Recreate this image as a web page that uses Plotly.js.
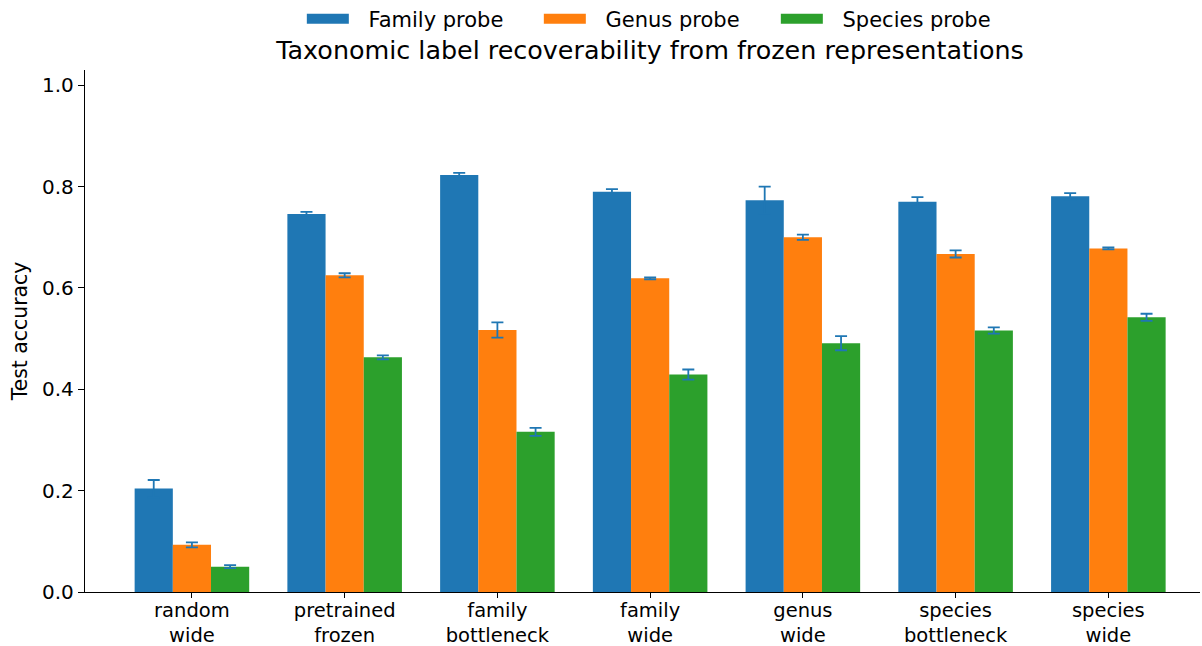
<!DOCTYPE html>
<html>
<head>
<meta charset="utf-8">
<script src="https://cdn.plot.ly/plotly-3.0.1.min.js"></script>
<style>html,body{margin:0;padding:0;background:#fff;}#chart{width:1202px;height:646px;}</style>
</head>
<body>
<div id="chart"></div>
<script>
const categories = ["random<br>wide", "pretrained<br>frozen", "family<br>bottleneck", "family<br>wide", "genus<br>wide", "species<br>bottleneck", "species<br>wide"];
const familyAcc = [0.204, 0.746, 0.823, 0.790, 0.773, 0.770, 0.781];
const familyErr = [0.017, 0.004, 0.004, 0.005, 0.027, 0.009, 0.006];
const genusAcc = [0.093, 0.625, 0.517, 0.619, 0.700, 0.667, 0.678];
const genusErr = [0.005, 0.004, 0.015, 0.002, 0.005, 0.007, 0.002];
const speciesAcc = [0.050, 0.463, 0.316, 0.429, 0.491, 0.516, 0.542];
const speciesErr = [0.003, 0.004, 0.008, 0.010, 0.014, 0.006, 0.007];
const seriesNames = ["Family probe", "Genus probe", "Species probe"];
const colors = ["#1f77b4", "#ff7f0e", "#2ca02c"];
const yTicks = [0, 0.2, 0.4, 0.6, 0.8, 1.0];

const errStyle = {type: "data", visible: true, color: "#1f77b4", thickness: 1.8, width: 6};
const vals = [familyAcc, genusAcc, speciesAcc];
const errs = [familyErr, genusErr, speciesErr];
const traces = vals.map((v, i) => ({
  type: "bar",
  name: seriesNames[i],
  legendgroup: seriesNames[i],
  showlegend: false,
  x: categories,
  y: v,
  marker: {color: colors[i], line: {width: 0}},
  error_y: Object.assign({array: errs[i]}, errStyle),
  hoverinfo: "x+y"
}));
// legend-only entries with wide swatches
seriesNames.forEach((n, i) => traces.push({
  type: "scatter", mode: "lines", name: "\u2002\u2009" + n, legendgroup: n,
  x: [null], y: [null],
  line: {color: colors[i], width: 15},
  showlegend: true, hoverinfo: "skip"
}));

const font = "DejaVu Sans, sans-serif";
const layout = {
  width: 1202, height: 646,
  margin: {l: 85, r: 2, t: 70, b: 54, pad: 0, autoexpand: false},
  paper_bgcolor: "#fff", plot_bgcolor: "#fff",
  font: {family: font, color: "#000", size: 20},
  barmode: "group",
  bargap: 0.25, bargroupgap: 0,
  title: {
    text: "Taxonomic label recoverability from frozen representations",
    font: {family: font, size: 25.4, color: "#000"},
    xref: "container", x: 0.5408, xanchor: "center",
    yref: "container", y: 0.922, yanchor: "middle"
  },
  legend: {
    orientation: "h",
    xref: "paper", x: 0.5133, xanchor: "center",
    yref: "container", y: 0.9706, yanchor: "middle",
    font: {family: font, size: 21, color: "#000"},
    bgcolor: "rgba(0,0,0,0)",
    itemwidth: 42,
    entrywidth: 180, entrywidthmode: "pixels"
  },
  xaxis: {
    type: "category",
    range: [-0.70, 6.60],
    showline: true, linecolor: "#000", linewidth: 1.3,
    ticks: "outside", ticklen: 5, tickwidth: 1.3, tickcolor: "#000",
    ticklabelstandoff: -5,
    showgrid: false, zeroline: false,
    automargin: false,
    tickfont: {family: font, size: 19.5, color: "#000"}
  },
  yaxis: {
    range: [0, 1.03],
    tickvals: yTicks,
    tickformat: ".1f",
    showline: true, linecolor: "#000", linewidth: 1.3,
    ticks: "outside", ticklen: 6, tickwidth: 1.3, tickcolor: "#000",
    showgrid: false, zeroline: false,
    automargin: false,
    tickfont: {family: font, size: 20, color: "#000"},
    title: {text: "Test accuracy", font: {family: font, size: 20.4, color: "#000"}, standoff: 8}
  }
};

Plotly.newPlot("chart", traces, layout, {displayModeBar: false, responsive: false});
</script>
</body>
</html>
